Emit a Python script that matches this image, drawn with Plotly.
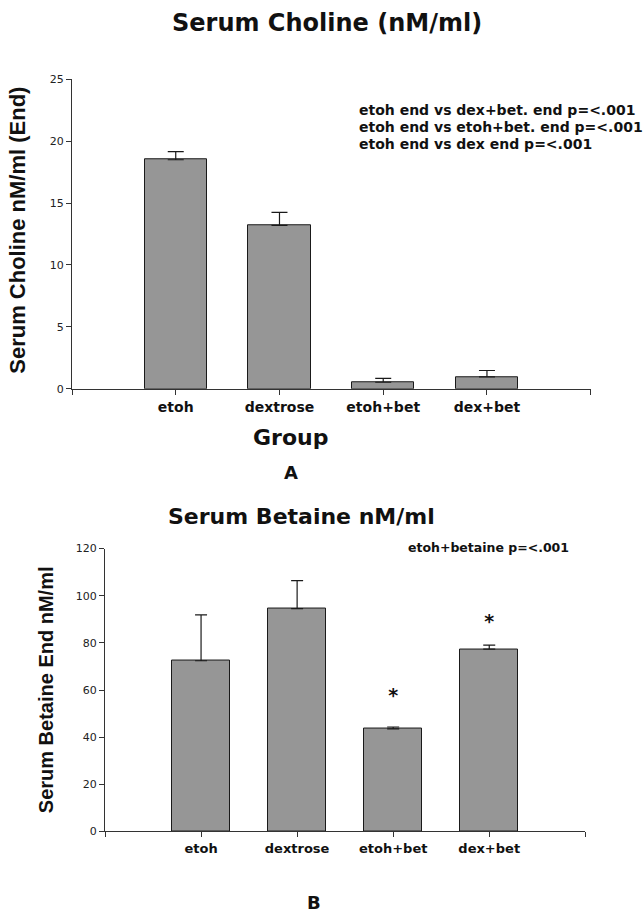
import plotly.graph_objects as go

groups = ["etoh", "dextrose", "etoh+bet", "dex+bet"]
choline = [18.5, 13.2, 0.53, 0.96]
choline_err = [0.65, 1.05, 0.32, 0.52]
betaine = [72.4, 94.5, 43.5, 77.3]
betaine_err = [19.5, 11.9, 0.8, 1.7]
star_y = [None, None, 56.8, 88.4]
star_text = ["", "", "*", "*"]
choline_ticks = [0, 5, 10, 15, 20, 25]
betaine_ticks = [0, 20, 40, 60, 80, 100, 120]

W, H = 644, 921
xpos = list(range(len(groups)))
ARIAL = "Arial, Liberation Sans, sans-serif"
WIDE = "DejaVu Sans, Verdana, sans-serif"
BAR = "#969696"

def px(x):
    return x / W

def py(y):
    return 1 - y / H

fig = go.Figure()
fig.add_trace(go.Bar(
    x=xpos, y=choline, width=0.6, marker=dict(color=BAR, line=dict(color="#1a1a1a", width=1)),
    error_y=dict(type="data", array=choline_err, arrayminus=[0] * len(groups), symmetric=False,
                 color="#1a1a1a", thickness=1.2, width=8),
    xaxis="x", yaxis="y", showlegend=False, hoverinfo="skip"))
fig.add_trace(go.Bar(
    x=xpos, y=betaine, width=0.6, marker=dict(color=BAR, line=dict(color="#1a1a1a", width=1)),
    error_y=dict(type="data", array=betaine_err, arrayminus=[0] * len(groups), symmetric=False,
                 color="#1a1a1a", thickness=1.2, width=6),
    xaxis="x2", yaxis="y2", showlegend=False, hoverinfo="skip"))
fig.add_trace(go.Scatter(
    x=xpos, y=star_y, mode="text", text=star_text,
    textfont=dict(family=WIDE, size=19, color="#111", weight="bold"), textposition="middle center",
    xaxis="x2", yaxis="y2", showlegend=False, cliponaxis=False, hoverinfo="skip"))

tickvals_x = [-1] + xpos + [len(groups)]
ticktext_x = [""] + ["<b>%s</b>" % g for g in groups] + [""]

axis_common = dict(showline=True, linecolor="#333", linewidth=1, ticks="outside",
                   tickcolor="#333", showgrid=False, zeroline=False)

fig.update_layout(
    width=W, height=H, margin=dict(l=0, r=0, t=0, b=0),
    paper_bgcolor="white", plot_bgcolor="white", bargap=0,
    font=dict(family=WIDE, color="#111"),
    xaxis=dict(domain=[px(72), px(590.7)], range=[-1, len(groups)], tickvals=tickvals_x,
               ticktext=ticktext_x, ticklen=5, tickfont=dict(family=WIDE, size=14, color="#111"),
               anchor="y", **axis_common),
    yaxis=dict(domain=[py(388.3), py(74.3)], range=[0, 25], tickvals=choline_ticks,
               ticklen=5, tickfont=dict(family=WIDE, size=11, color="#222"), anchor="x", **axis_common),
    xaxis2=dict(domain=[px(105), px(585.3)], range=[-1, len(groups)], tickvals=tickvals_x,
                ticktext=ticktext_x, ticklen=5, tickfont=dict(family=WIDE, size=13, color="#111"),
                anchor="y2", **axis_common),
    yaxis2=dict(domain=[py(837.3), py(550.3)], range=[0, 120], tickvals=betaine_ticks,
                ticklen=5, tickfont=dict(family=WIDE, size=11, color="#222"), anchor="x2", **axis_common),
)

def ann(text, x, y, size, xanchor="center", angle=0, family=WIDE):
    fig.add_annotation(text=text, x=px(x), y=py(y), xref="paper", yref="paper",
                       xanchor=xanchor, yanchor="middle", showarrow=False, textangle=angle,
                       font=dict(family=family, size=size, color="#111"))

ann("<b>Serum Choline (nM/ml)</b>", 327, 17, 24)
ann("<b>Serum Choline nM/ml (End)</b>", 18, 228, 22, angle=-90, family=ARIAL)
ann("<b>etoh end vs dex+bet. end p=&lt;.001</b>", 357, 105, 14, xanchor="left")
ann("<b>etoh end vs etoh+bet. end p=&lt;.001</b>", 357, 122.5, 14, xanchor="left")
ann("<b>etoh end vs dex end p=&lt;.001</b>", 357, 140, 14, xanchor="left")
ann("<b>Group</b>", 290, 438, 22)
ann("<b>A</b>", 291, 473, 18)
ann("<b>Serum Betaine nM/ml</b>", 301, 518, 22)
ann("<b>Serum Betaine End nM/ml</b>", 46, 694, 20, angle=-90, family=ARIAL)
ann("<b>etoh+betaine p=&lt;.001</b>", 406, 549, 12.5, xanchor="left")
ann("<b>B</b>", 314, 909, 18)

fig.write_html("out.html", config={"displayModeBar": False},
               post_script="document.body.style.margin='0';")
